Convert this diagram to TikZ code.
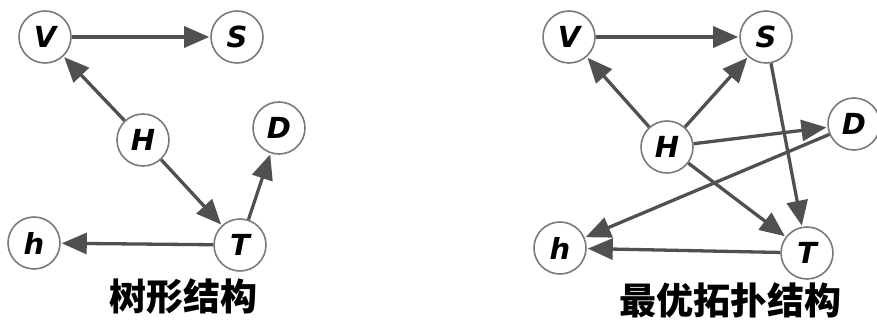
\documentclass[tikz,border=0pt]{standalone}
\usepackage{fontspec}
\setmainfont{DejaVu Sans}
\newfontfamily\cjk{Noto Sans CJK SC}
\usetikzlibrary{arrows.meta}
\definecolor{edgec}{HTML}{505050}
\definecolor{ringc}{HTML}{7A7A7A}
\tikzset{
  vtx/.style={circle,draw=ringc,line width=1.6pt,fill=white,minimum size=52pt,inner sep=0pt,
    font=\fontsize{29}{29}\selectfont\bfseries\itshape},
  edge/.style={draw=edgec,line width=3.3pt,-{Triangle[length=25pt,width=21pt]},shorten >=1pt},
  captext/.style={font=\cjk\bfseries\fontsize{37}{37}\selectfont}
}
\begin{document}
\begin{tikzpicture}[x=1pt,y=-1pt]
\useasboundingbox (0,0) rectangle (877,323);
% left
\node[vtx] (V1) at (45,37) {V};
\node[vtx] (S1) at (237,37) {S};
\node[vtx] (H1) at (143,140) {H};
\node[vtx] (D1) at (279,128) {D};
\node[vtx] (h1) at (34,243) {h};
\node[vtx] (T1) at (240,245) {T};
\draw[edge] (V1) -- (S1);
\draw[edge] (H1) -- (V1);
\draw[edge] (H1) -- (T1);
\draw[edge] (T1) -- (D1);
\draw[edge] (T1) -- (h1);
\node[captext] (L1) at (183,297) {树形结构};
% right
\node[vtx] (V2) at (569,37) {V};
\node[vtx] (S2) at (766,37) {S};
\node[vtx] (H2) at (667,147) {H};
\node[vtx] (D2) at (854,124) {D};
\node[vtx] (h2) at (560,248) {h};
\node[vtx] (T2) at (807,253) {T};
\draw[edge] (V2) -- (S2);
\draw[edge] (H2) -- (V2);
\draw[edge] (H2) -- (S2);
\draw[edge] (H2) -- (D2);
\draw[edge] (H2) -- (T2);
\draw[edge] (S2) -- (T2);
\draw[edge] (D2) -- (h2);
\draw[edge] (T2) -- (h2);
\node[captext] (L2) at (730,300) {最优拓扑结构};
\end{tikzpicture}
\end{document}
